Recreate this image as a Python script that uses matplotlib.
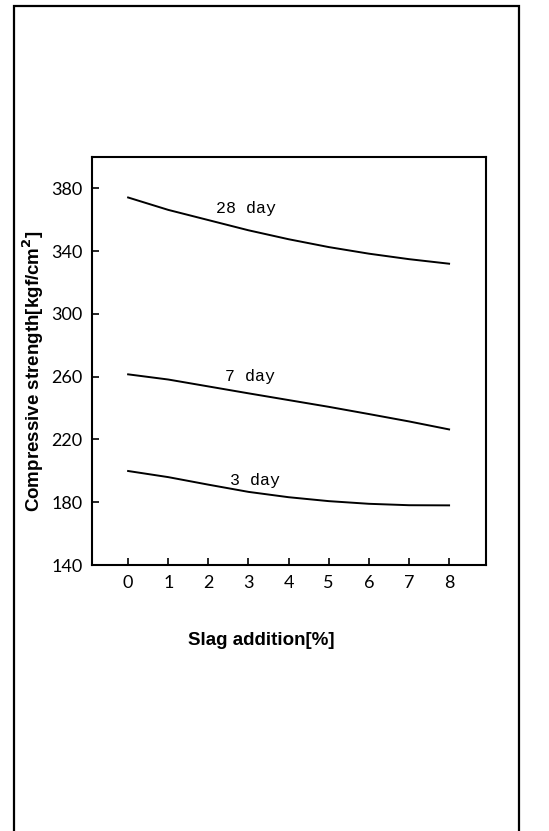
import matplotlib
matplotlib.use("Agg")
import matplotlib.pyplot as plt
from matplotlib.patches import Rectangle

# Slag addition (%) and compressive strength (kgf/cm2) by curing age
slag_pct = [0, 1, 2, 3, 4, 5, 6, 7, 8]
strength_28d = [374.2, 366.3, 359.8, 353.3, 347.6, 342.6, 338.4, 334.9, 332.0]
strength_7d = [261.5, 258.2, 253.8, 249.4, 245.1, 240.8, 236.2, 231.5, 226.4]
strength_3d = [199.9, 196.0, 191.2, 186.6, 183.2, 180.7, 179.0, 178.1, 178.0]

curve_labels = ["28 day", "7 day", "3 day"]
label_pos = [(2.94, 367.4), (3.04, 260.0), (3.17, 194.0)]

y_ticks = [140, 180, 220, 260, 300, 340, 380]

fig = plt.figure(figsize=(5.49, 8.31), dpi=100)
fig.patch.set_facecolor("white")

# outer frame of the figure panel (open at the bottom)
frame = Rectangle((14 / 549, -0.02), (519 - 14) / 549, 1.02 - 6 / 831,
                  transform=fig.transFigure, fill=False, edgecolor="black",
                  linewidth=1.6, zorder=0)
fig.patches.append(frame)

ax = fig.add_axes([92 / 549, 1 - 565 / 831, (486 - 92) / 549, (565 - 157) / 831])

for series in (strength_28d, strength_7d, strength_3d):
    ax.plot(slag_pct, series, color="black", linewidth=1.4)

for text, (x, y) in zip(curve_labels, label_pos):
    ax.text(x, y, text, ha="center", va="center", fontsize=12,
            family=["Liberation Mono", "DejaVu Sans Mono"])

ax.set_xlim(-0.9, 8.92)
ax.set_ylim(140, 400)
ax.set_xticks(slag_pct)
ax.set_yticks(y_ticks)
ax.tick_params(direction="in", length=5, width=1.2, labelsize=13, pad=7,
               labelcolor="black")
for lab in ax.get_xticklabels() + ax.get_yticklabels():
    lab.set_family(["Lato", "DejaVu Sans"])

for sp in ax.spines.values():
    sp.set_linewidth(1.5)

label_font = ["Liberation Sans Narrow", "Liberation Sans", "DejaVu Sans"]
ax.set_ylabel(r"Compressive strength[kgf/cm$^{\mathbf{2}}$]", fontsize=13.5,
              fontweight="bold", family=label_font)
ax.yaxis.set_label_coords(-0.118, 0.475)
ax.set_xlabel("Slag addition[%]", fontsize=13.5, fontweight="bold",
              family=label_font)
ax.xaxis.set_label_coords(0.43, -0.165)

fig.savefig("out.png", dpi=100)
